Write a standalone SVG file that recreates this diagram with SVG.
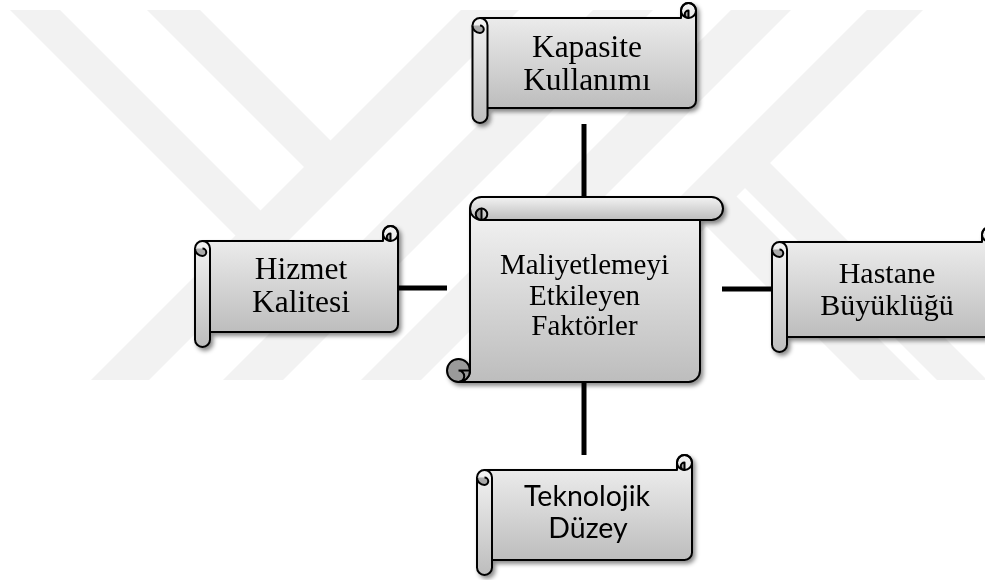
<svg xmlns="http://www.w3.org/2000/svg" width="985" height="580" viewBox="0 0 985 580">
<defs>
<linearGradient id="g" x1="0" y1="0" x2="0" y2="1">
<stop offset="0" stop-color="#f3f3f3"/>
<stop offset="1" stop-color="#bdbdbd"/>
</linearGradient>
<filter id="sh" x="-10%" y="-10%" width="130%" height="130%">
<feDropShadow dx="2.5" dy="3" stdDeviation="2" flood-color="#000" flood-opacity="0.45"/>
</filter>
<style>
.s{fill:url(#g);stroke:#000;stroke-width:2;stroke-linejoin:round}
.o{fill:none;stroke:#000;stroke-width:2}
.d{fill:#a9a9a9;stroke:#000;stroke-width:2;stroke-linejoin:round}
.dd{fill:#9a9a9a;stroke:#000;stroke-width:2;stroke-linejoin:round}
.t{font-family:"Liberation Serif","Times New Roman",serif;fill:#000;text-anchor:middle}
.k{font-family:Lato,"Open Sans",sans-serif;fill:#000;text-anchor:middle}
.w{fill:#f2f2f2}
.c{stroke:#000;stroke-width:5;fill:none}
</style>
</defs>
<rect width="985" height="580" fill="#fff"/>
<g id="watermark">
<polygon class="w" points="461,10 519,10 149,380 91,380"/>
<polygon class="w" points="593,10 653,10 283,380 223,380"/>
<polygon class="w" points="731,10 791,10 421,380 361,380"/>
<polygon class="w" points="867,10 923,10 553,380 497,380"/>
<polygon class="w" points="10,10 60,10 265,215 240,240"/>
<polygon class="w" points="147,10 200,10 335,145 308.5,171.5"/>
<polygon class="w" points="766,159 987,380 937,380 741,184"/>
<polygon class="w" points="732.5,192.5 920,380 860,380 702.5,222.5"/>
</g>
<g id="connectors">
<line class="c" x1="584" y1="124" x2="584" y2="198"/>
<line class="c" x1="398" y1="288" x2="447" y2="288"/>
<line class="c" x1="722" y1="289" x2="773" y2="289"/>
<line class="c" x1="584" y1="381" x2="584" y2="455"/>
</g>
<g id="node-kapasite" filter="url(#sh)">
<path class="s" d="M480,18 H681 V10.5 A7.5 7.5 0 0 1 696 10.5 V100.5 A7.5 7.5 0 0 1 688.5 108 H480 Z"/>
<circle class="o" cx="688.5" cy="10.5" r="7.5"/>
<path class="d" d="M688.5,18 A3.75 3.75 0 0 1 688.5 10.5 Z"/>
<rect class="s" x="472.5" y="18" width="15" height="105" rx="7.5"/>
<path class="d" d="M472.5,25.5 A7.5 7.5 0 0 0 480 33 A3.75 3.75 0 0 0 480 25.5"/>
<text class="t" x="587" y="57" font-size="31.5">Kapasite</text>
<text class="t" x="587" y="89.5" font-size="31.5">Kullanımı</text>
</g>
<g id="node-hizmet" filter="url(#sh)">
<path class="s" d="M202.5,241 H383 V233.5 A7.5 7.5 0 0 1 398 233.5 V324.5 A7.5 7.5 0 0 1 390.5 332 H202.5 Z"/>
<circle class="o" cx="390.5" cy="233.5" r="7.5"/>
<path class="d" d="M390.5,241 A3.75 3.75 0 0 1 390.5 233.5 Z"/>
<rect class="s" x="195" y="241" width="15" height="106" rx="7.5"/>
<path class="d" d="M195,248.5 A7.5 7.5 0 0 0 202.5 256 A3.75 3.75 0 0 0 202.5 248.5"/>
<text class="t" x="301" y="279" font-size="31.5">Hizmet</text>
<text class="t" x="301" y="312" font-size="31.5">Kalitesi</text>
</g>
<g id="node-hastane" filter="url(#sh)">
<path class="s" d="M779.5,242 H982 V234.5 A7.5 7.5 0 0 1 997 234.5 V329.5 A7.5 7.5 0 0 1 989.5 337 H779.5 Z"/>
<circle class="o" cx="989.5" cy="234.5" r="7.5"/>
<path class="d" d="M989.5,242 A3.75 3.75 0 0 1 989.5 234.5 Z"/>
<rect class="s" x="772" y="242" width="15" height="110" rx="7.5"/>
<path class="d" d="M772,249.5 A7.5 7.5 0 0 0 779.5 257 A3.75 3.75 0 0 0 779.5 249.5"/>
<text class="t" x="887" y="283" font-size="30">Hastane</text>
<text class="t" x="887" y="315" font-size="30">Büyüklüğü</text>
</g>
<g id="node-teknolojik" filter="url(#sh)">
<path class="s" d="M484.5,470 H677 V462.5 A7.5 7.5 0 0 1 692 462.5 V552.5 A7.5 7.5 0 0 1 684.5 560 H484.5 Z"/>
<circle class="o" cx="684.5" cy="462.5" r="7.5"/>
<path class="d" d="M684.5,470 A3.75 3.75 0 0 1 684.5 462.5 Z"/>
<rect class="s" x="477" y="470" width="15" height="105" rx="7.5"/>
<path class="d" d="M477,477.5 A7.5 7.5 0 0 0 484.5 485 A3.75 3.75 0 0 0 484.5 477.5"/>
<text class="k" x="587" y="506" font-size="28.5">Teknolojik</text>
<text class="k" x="588" y="538" font-size="28.5">Düzey</text>
</g>
<g id="node-center" filter="url(#sh)">
<path class="s" d="M470,208.5 V370.5 A11.5 11.5 0 0 1 458.5 382 H688.5 A11.5 11.5 0 0 0 700 370.5 V208.5 Z"/>
<circle class="dd" cx="458.5" cy="370.5" r="11.5"/>
<path class="o" d="M470,370.5 H458.5 A5.75 5.75 0 0 1 458.5 382"/>
<rect class="s" x="470" y="197" width="253" height="23" rx="11.5"/>
<path class="dd" d="M481.5,208.5 A5.75 5.75 0 0 0 481.5 220 Z"/>
<path class="o" d="M481.5,208.5 A5.75 5.75 0 0 1 481.5 220"/>
<text class="t" x="584.5" y="273.5" font-size="29">Maliyetlemeyi</text>
<text class="t" x="584.5" y="304.5" font-size="29">Etkileyen</text>
<text class="t" x="584.5" y="335" font-size="29">Faktörler</text>
</g>
</svg>
